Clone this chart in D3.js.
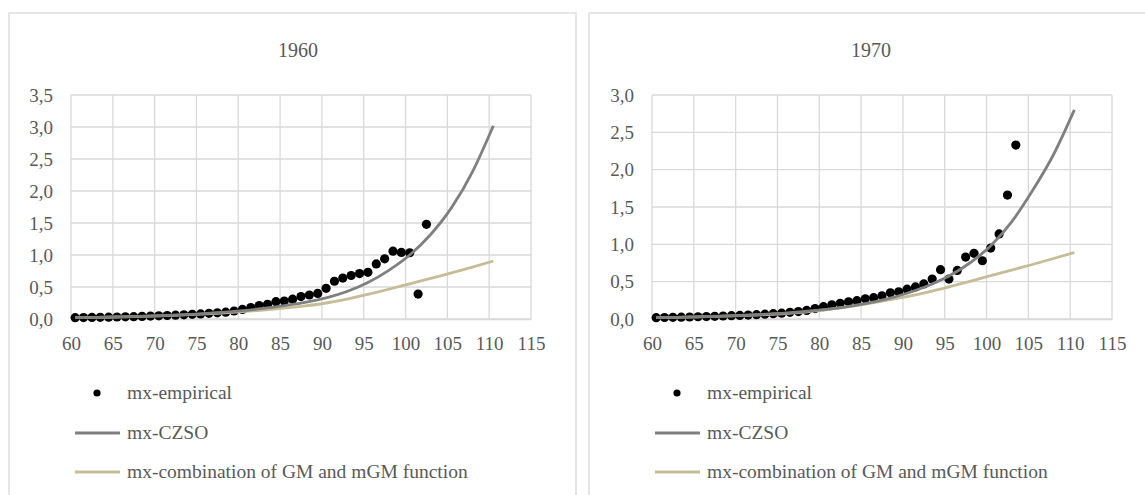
<!DOCTYPE html>
<html>
<head>
<meta charset="utf-8">
<style>
  body { margin: 0; background: #fff; }
  .grid line { stroke: #d9d9d9; stroke-width: 1.3; }
  .axis text { fill: #595959; font-size: 19px; }
</style>
<title>mx</title>
</head>
<body>
<script src="https://cdn.jsdelivr.net/npm/d3@7"></script>
<script>
// empirical mortality, ages x+0.5
var ages1960 = d3.range(60.5, 103, 1);
var emp1960 = [0.020,0.022,0.024,0.026,0.029,0.031,0.034,0.037,0.041,0.045,
  0.050,0.055,0.060,0.066,0.073,0.080,0.088,0.097,0.107,0.125,
  0.150,0.180,0.210,0.230,0.270,0.280,0.310,0.350,0.375,0.400,
  0.480,0.590,0.640,0.680,0.710,0.730,0.860,0.940,1.060,1.040,
  1.035,0.390,1.480];
var ages1970 = d3.range(60.5, 104, 1);
var emp1970 = [0.018,0.020,0.022,0.024,0.027,0.030,0.033,0.036,0.040,0.044,
  0.048,0.053,0.058,0.064,0.071,0.078,0.090,0.100,0.115,0.140,
  0.165,0.190,0.210,0.230,0.245,0.270,0.285,0.310,0.350,0.365,
  0.400,0.430,0.470,0.535,0.660,0.535,0.650,0.830,0.880,0.780,
  0.950,1.140,1.660,2.330];

// fitted curves, read every 2.5 years
var lineAges = [60.5,63,65.5,68,70.5,73,75.5,78,80.5,83,85.5,88,90.5,93,95.5,98,100.5,103,105.5,108,110.5];
var czso1960 = [0.020,0.025,0.032,0.040,0.051,0.064,0.081,0.102,0.130,0.165,0.210,0.260,0.330,0.430,0.570,0.760,1.000,1.320,1.740,2.300,3.020];
var comb1960 = [0.020,0.025,0.031,0.039,0.049,0.061,0.076,0.094,0.115,0.140,0.170,0.205,0.250,0.310,0.385,0.465,0.550,0.635,0.720,0.810,0.906];
var czso1970 = [0.018,0.023,0.029,0.037,0.047,0.060,0.076,0.097,0.125,0.160,0.205,0.265,0.345,0.445,0.575,0.750,0.980,1.300,1.720,2.200,2.800];
var comb1970 = [0.018,0.023,0.029,0.036,0.045,0.056,0.070,0.088,0.120,0.155,0.200,0.250,0.300,0.360,0.430,0.505,0.580,0.655,0.730,0.810,0.890];

var legendLabels = ["mx-empirical", "mx-CZSO", "mx-combination of GM and mGM function"];
var grey = "#7f7f7f", tan = "#c4bd97";
var serif = "'Liberation Serif', 'Times New Roman', serif";

var svg = d3.select("body").append("svg").attr("width", 1145).attr("height", 495)
  .attr("font-family", serif);

var fmt = d3.formatLocale({decimal: ",", thousands: " ", grouping: [3], currency: ["", ""]}).format(".1f");

function panel(opt) {
  var g = svg.append("g");
  g.append("rect").attr("x", opt.px).attr("y", 13).attr("width", 567).attr("height", 520)
    .attr("fill", "#fff").attr("stroke", "#d9d9d9").attr("stroke-width", 1.3);

  g.append("text").attr("x", opt.tx).attr("y", 57).attr("text-anchor", "middle")
    .attr("font-family", serif).attr("fill", "#595959").attr("font-size", 20).text(opt.title);

  var x = d3.scaleLinear().domain([60, 115]).range([opt.left, opt.left + 460]);
  var y = d3.scaleLinear().domain([0, opt.ymax]).range([319, 95]);

  // gridlines
  g.append("g").attr("class", "grid").selectAll("line").data(d3.range(60, 116, 5)).enter()
    .append("line").attr("x1", d => x(d)).attr("x2", d => x(d)).attr("y1", 95).attr("y2", 319);
  g.append("g").attr("class", "grid").selectAll("line").data(d3.range(0, opt.ymax + 0.01, 0.5)).enter()
    .append("line").attr("x1", x(60)).attr("x2", x(115)).attr("y1", d => y(d)).attr("y2", d => y(d));

  var xAxis = d3.axisBottom(x).tickValues(d3.range(60, 116, 5)).tickSize(0).tickPadding(18);
  var yAxis = d3.axisLeft(y).tickValues(d3.range(0, opt.ymax + 0.01, 0.5)).tickSize(0).tickPadding(18).tickFormat(fmt);
  var xa = g.append("g").attr("class", "axis").attr("transform", "translate(0,319)").call(xAxis);
  var ya = g.append("g").attr("class", "axis").attr("transform", "translate(" + opt.left + ",0)").call(yAxis);
  xa.select(".domain").attr("stroke", "#d9d9d9").attr("stroke-width", 1.3);
  ya.select(".domain").remove();
  xa.attr("font-family", serif).attr("font-size", 19);
  ya.attr("font-family", serif).attr("font-size", 19);

  // empirical points
  g.append("g").selectAll("circle").data(opt.ages).enter().append("circle")
    .attr("cx", d => x(d)).attr("cy", (d, i) => y(opt.emp[i])).attr("r", 4.6).attr("fill", "#000");

  var line = d3.line().x(d => x(d[0])).y(d => y(d[1])).curve(d3.curveMonotoneX);
  g.append("path").datum(d3.zip(lineAges, opt.comb)).attr("d", line)
    .attr("fill", "none").attr("stroke", tan).attr("stroke-width", 2.8);
  g.append("path").datum(d3.zip(lineAges, opt.czso)).attr("d", line)
    .attr("fill", "none").attr("stroke", grey).attr("stroke-width", 2.8);

  // legend
  var lg = g.append("g").attr("transform", "translate(" + opt.lx + ",0)");
  var ly = [393, 433, 472];
  lg.append("circle").attr("cx", 22).attr("cy", ly[0]).attr("r", 3.6).attr("fill", "#000");
  lg.append("line").attr("x1", 0).attr("x2", 45).attr("y1", ly[1]).attr("y2", ly[1])
    .attr("stroke", grey).attr("stroke-width", 2.8);
  lg.append("line").attr("x1", 0).attr("x2", 45).attr("y1", ly[2]).attr("y2", ly[2])
    .attr("stroke", tan).attr("stroke-width", 2.8);
  lg.selectAll("text").data(legendLabels).enter().append("text")
    .attr("x", 52).attr("y", (d, i) => ly[i] + 6).attr("fill", "#595959")
    .attr("font-family", serif).attr("font-size", 19.5).text(d => d);
}

panel({px: 9, tx: 298, title: "1960", left: 71, ymax: 3.5, ages: ages1960, emp: emp1960,
  czso: czso1960, comb: comb1960, lx: 75});
panel({px: 589, tx: 871, title: "1970", left: 652, ymax: 3.0, ages: ages1970, emp: emp1970,
  czso: czso1970, comb: comb1970, lx: 655});
</script>
</body>
</html>
